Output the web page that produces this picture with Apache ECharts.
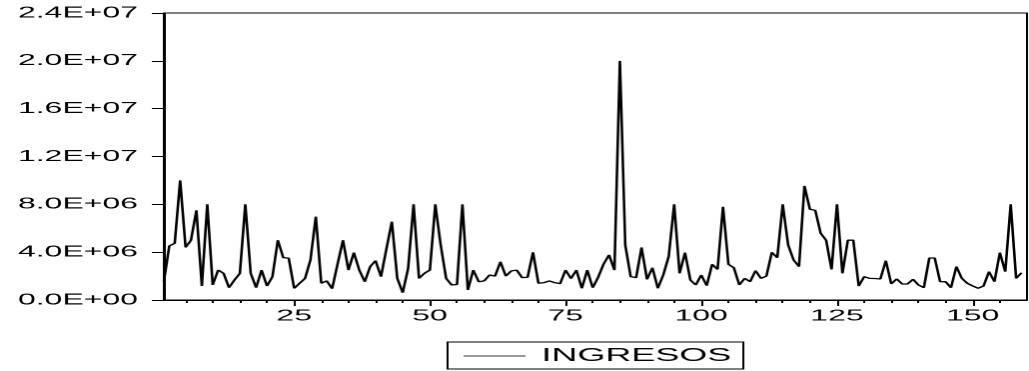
<!DOCTYPE html>
<html>
<head>
<meta charset="utf-8">
<title>INGRESOS</title>
<script src="https://cdn.jsdelivr.net/npm/echarts@6/dist/echarts.min.js"></script>
<style>
    html, body { margin: 0; padding: 0; overflow: hidden; background: #fff; }
    /* the original EViews graph is stretched sideways, so draw narrow and widen it */
    #graph { width: 515px; height: 371px; transform: scaleX(1.998); transform-origin: 0 0; }
</style>
</head>
<body>
<div id="graph"></div>
<script>
"use strict"

const seriesName = "INGRESOS";
// observations 1..159, values in millions
const ingresos = [
    1.53, 4.52, 4.74, 10.0, 4.4, 5.0, 7.5, 1.17, 8.0, 1.26,
    2.5, 2.23, 1.03, 1.67, 2.23, 8.0, 2.23, 1.03, 2.5, 1.17,
    1.95, 5.0, 3.54, 3.5, 0.98, 1.4, 1.8, 3.35, 6.97, 1.4,
    1.6, 0.95, 3.0, 5.0, 2.5, 3.96, 2.5, 1.53, 2.79, 3.29,
    1.95, 4.27, 6.55, 1.81, 0.61, 2.65, 8.0, 1.81, 2.23, 2.5,
    8.0, 4.6, 1.81, 1.26, 1.3, 8.0, 0.84, 2.5, 1.53, 1.6,
    2.09, 2.0, 3.2, 2.0, 2.43, 2.5, 1.87, 1.9, 3.99, 1.4,
    1.45, 1.59, 1.45, 1.37, 2.5, 1.79, 2.5, 0.98, 2.5, 1.03,
    1.9, 3.0, 3.77, 2.5, 20.0, 4.6, 1.95, 1.87, 4.4, 1.73,
    2.7, 0.98, 2.1, 3.65, 8.0, 2.23, 3.96, 1.67, 1.26, 2.09,
    1.2, 2.98, 2.56, 7.8, 2.98, 2.7, 1.26, 1.81, 1.53, 2.45,
    1.81, 2.0, 3.99, 3.54, 8.0, 4.6, 3.35, 2.79, 9.54, 7.59,
    7.5, 5.58, 5.0, 2.56, 8.0, 2.23, 5.0, 5.0, 1.17, 1.95,
    1.81, 1.8, 1.76, 3.29, 1.34, 1.76, 1.34, 1.34, 1.73, 1.26,
    1.03, 3.51, 3.51, 1.53, 1.53, 1.03, 2.79, 1.81, 1.4, 1.17,
    0.98, 1.17, 2.37, 1.53, 3.96, 2.37, 8.0, 1.81, 2.28
];
const xLabelValues = [25, 50, 75, 100, 125, 150];
const xMinorTicks = [5, 10, 15, 20, 25, 30, 35, 40, 45, 50, 55, 60, 65, 70, 75, 80,
    85, 90, 95, 100, 105, 110, 115, 120, 125, 130, 135, 140, 145, 150, 155];
const yTickLabels = ["0.0E+00", "4.0E+06", "8.0E+06", "1.2E+07", "1.6E+07", "2.0E+07", "2.4E+07"];

const fontFam = "'Liberation Sans', Arial, sans-serif";
const xRange = { min: 1, max: 160 };

const myChart = echarts.init(document.getElementById("graph"), null, { renderer: "canvas", devicePixelRatio: 2 });

const option = {
    animation: false,
    grid: {
        left: 82, right: 1, top: 13, bottom: 71,
        show: true, borderColor: "#000", borderWidth: 1, backgroundColor: "transparent"
    },
    legend: {
        data: [{ name: seriesName, icon: "rect" }],
        left: 224,
        top: 342,
        padding: [5, 6, 4, 8],
        borderColor: "#000",
        borderWidth: 1,
        itemWidth: 31,
        itemHeight: 1,
        itemStyle: { color: "#333" },
        textStyle: { fontFamily: fontFam, fontSize: 18, color: "#000", padding: [0, 0, 0, 3] }
    },
    xAxis: [{
        type: "value",
        ...xRange,
        axisLine: { onZero: false, lineStyle: { color: "#000", width: 1 } },
        axisTick: { show: true, length: 3, customValues: xMinorTicks, lineStyle: { color: "#000" } },
        axisLabel: { customValues: xLabelValues, fontFamily: fontFam, fontSize: 16, color: "#000", margin: 8 },
        splitLine: { show: false }
    }, {
        type: "value",
        position: "bottom",
        ...xRange,
        axisLine: { show: false },
        axisTick: { show: true, length: 6, customValues: xLabelValues, lineStyle: { color: "#000" } },
        axisLabel: { show: false },
        splitLine: { show: false }
    }],
    yAxis: {
        type: "value",
        min: 0,
        max: 24e6,
        interval: 4e6,
        axisLine: { show: true, lineStyle: { color: "#000", width: 1 } },
        axisTick: { show: true, length: 6, lineStyle: { color: "#000" } },
        axisLabel: {
            fontFamily: fontFam, fontSize: 16, color: "#000", margin: 13,
            formatter: (val, idx) => yTickLabels[Math.round(val / 4e6)]
        },
        splitLine: { show: false }
    },
    series: [{
        name: seriesName,
        type: "line",
        symbol: "none",
        data: ingresos.map((v, i) => [i + 1, v * 1e6]),
        lineStyle: { color: "#000", width: 1.3 },
        itemStyle: { color: "#000" }
    }]
};
myChart.setOption(option);
</script>
</body>
</html>
